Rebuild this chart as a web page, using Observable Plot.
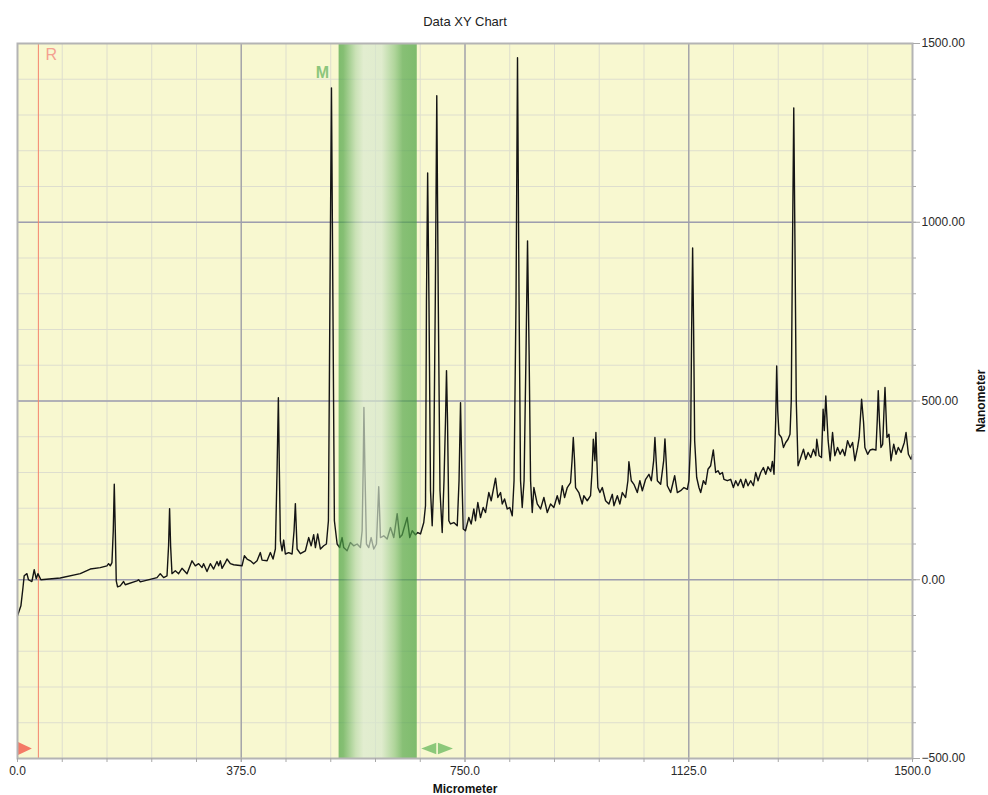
<!DOCTYPE html>
<html>
<head>
<meta charset="utf-8">
<script src="https://cdn.jsdelivr.net/npm/d3@7"></script>
<script src="https://cdn.jsdelivr.net/npm/@observablehq/plot@0.6"></script>
<style>
  body { margin: 0; background: #ffffff; }
  #chart svg { display: block; }
</style>
</head>
<body>
<div id="chart"></div>
<script>
// ---------- data ----------
const title = "Data XY Chart";
const xLabel = "Micrometer";
const yLabel = "Nanometer";
const xDomain = [0, 1500];
const yDomain = [-500, 1500];
const xMajorTicks = [0, 375, 750, 1125, 1500];
const xMinorTicks = [0, 75, 150, 225, 300, 375, 450, 525, 600, 675, 750, 825, 900, 975, 1050, 1125, 1200, 1275, 1350, 1425, 1500];
const yMajorTicks = [-500, 0, 500, 1000, 1500];
const yMinorTicks = [-500, -400, -300, -200, -100, 0, 100, 200, 300, 400, 500, 600, 700, 800, 900, 1000, 1100, 1200, 1300, 1400, 1500];
const rMarker = [{x: 35, label: "R"}];
const mBand = [{x1: 539, x2: 670, label: "M"}];

// spectrum [micrometer, nanometer]
const spectrum = [
  [0,-101],[5.7,-73],[9.1,-23],[11.2,11],[15.8,17],[18.4,0],[24.1,-5],[28,28],[31.4,3],[34.2,17],
  [39.2,0],[71.6,5],[105.2,17],[121.9,30],[138.7,34],[149.9,39],[152.6,45],[155.5,39],[158.3,48],[160.5,137],
  [162.2,267],[163.9,137],[165.5,-3],[167.7,-20],[172.2,-17],[177.8,-5],[180.6,-14],[200.2,-3],[202.9,0],[205.8,-6],
  [233.8,6],[239.3,17],[244.9,6],[250.6,11],[253.2,95],[254.9,199],[256.6,95],[258.9,17],[264.5,25],[270,17],
  [275.7,32],[284.1,17],[292.5,53],[298,39],[303.6,45],[309.3,34],[311.9,45],[317.6,23],[323.2,45],[328.7,30],
  [334.4,51],[337.1,39],[340,53],[342.8,32],[348.3,48],[351.2,58],[356.7,45],[362.3,42],[376.3,39],[380.2,67],
  [384.7,58],[390.3,53],[395.8,45],[401.5,53],[407,76],[409.9,55],[418.3,53],[423.8,76],[428.3,58],[432.2,86],
  [435,305],[437.2,509],[438.9,305],[440.6,109],[443.4,81],[446.1,111],[448.9,72],[454.5,76],[460.2,72],[463.5,137],
  [465.7,213],[468.6,86],[474.1,73],[482.5,81],[488,118],[492.1,95],[496.4,126],[499.3,90],[503.1,128],[507.7,86],
  [513.2,95],[517.7,100],[521.1,165],[523.6,780],[526.2,1376],[528.6,780],[531.1,165],[535.7,100],[540,90],
  [541.2,100],[544,118],[546.7,90],[552.4,81],[557.9,104],[563.5,95],[569.2,100],[574.7,90],[577.6,137],[579.3,305],
  [580.6,482],[582.3,305],[584.8,100],[588.7,90],[592.7,118],[597.1,86],[601.6,100],[603.8,193],[605.4,260],[607.1,179],
  [608.3,118],[613.8,123],[619.5,114],[625.1,146],[630.6,118],[636.3,185],[640.7,118],[644.7,126],[647.4,142],[653.1,174],
  [657.4,118],[661.5,137],[667,126],[670.9,132],[675.4,128],[680.9,160],[683.8,207],[685.4,780],[687.4,1138],[689.6,780],
  [692.2,249],[695,151],[697.2,249],[700.2,780],[702.7,1354],[705.2,780],[708.1,249],[711.8,132],[714.8,277],[717.3,445],
  [719,585],[720.7,445],[722.9,165],[725.7,156],[731.3,160],[737,151],[740,277],[742.5,495],[745,277],[747,142],
  [750.8,137],[756.4,174],[760.4,156],[764.8,198],[767.6,165],[771.5,216],[776,174],[780.5,202],[784.4,188],[789.9,244],
  [793.9,221],[801.2,284],[805,230],[809.6,244],[812.4,212],[816.3,226],[820.8,198],[825.1,202],[829.2,179],[832.2,277],
  [835.5,780],[838,1460],[840.6,780],[843.1,277],[845.9,202],[849,277],[852.3,640],[854.8,948],[857.4,640],[859.9,277],
  [862.7,188],[865.4,258],[871.1,212],[876.6,198],[882.2,230],[887.9,188],[893.4,212],[898.9,202],[904.6,235],[908.5,212],
  [913,263],[916.9,230],[921.4,258],[926.9,272],[929.4,333],[931.5,398],[933.6,333],[935.3,258],[940.8,244],[946.5,212],
  [949.2,235],[954.9,221],[960.4,235],[963,305],[965,393],[967.7,333],[969.4,412],[971,333],[972.7,258],[976.1,244],
  [980.1,258],[985.6,221],[991.2,212],[996.9,239],[999.6,207],[1005.3,235],[1009.6,212],[1013.6,244],[1019.2,230],[1023,277],
  [1024.7,330],[1028.7,277],[1033.1,267],[1038.8,244],[1043.1,277],[1047.2,249],[1052.7,281],[1058.3,295],[1062.3,277],[1066.2,333],
  [1068.3,398],[1070.4,333],[1072.4,277],[1077.9,267],[1083,333],[1085.1,394],[1087.1,333],[1089.1,263],[1094.7,244],[1101.4,291],
  [1105.9,244],[1111.4,249],[1117,258],[1122.6,253],[1125.3,277],[1128.2,389],[1129.8,696],[1131.5,928],[1133.2,696],[1134.9,389],
  [1138.3,286],[1142.1,258],[1145,244],[1149.5,277],[1153.3,267],[1157.2,309],[1161.7,319],[1166.2,363],[1170.1,300],[1174,305],
  [1177.3,295],[1181.4,300],[1184,281],[1189.7,277],[1195.3,281],[1199.8,258],[1203.7,277],[1207.5,263],[1212.1,281],[1216.6,258],
  [1220.5,281],[1224.3,263],[1228.8,277],[1233.4,263],[1237.2,300],[1241.1,277],[1245.6,300],[1250.1,314],[1254,295],[1257.8,316],
  [1262.4,303],[1265.2,331],[1267.9,295],[1270.7,445],[1272.4,598],[1274.1,472],[1276.3,407],[1280.3,398],[1283.7,370],[1287.5,384],
  [1291.4,393],[1294.7,407],[1296.8,500],[1298.8,920],[1301,1320],[1303.1,920],[1305.2,500],[1308.2,319],[1312.7,342],[1317.3,365],
  [1321.1,337],[1325,356],[1329.5,342],[1334,365],[1337.9,347],[1339.6,393],[1343.5,347],[1347.5,342],[1350.2,477],[1352.2,417],
  [1354.7,514],[1358.6,389],[1362,333],[1366,412],[1369.8,347],[1374.4,370],[1378.7,351],[1382.8,365],[1386.6,347],[1391.2,389],
  [1395.5,370],[1399.6,384],[1403.4,333],[1408,370],[1410.6,398],[1414.7,505],[1418,440],[1420.2,370],[1424.8,351],[1429.1,363],
  [1433.2,365],[1438.7,363],[1440.9,445],[1442.6,529],[1444.6,445],[1447.1,370],[1450,379],[1452.2,472],[1453.9,538],[1457.2,398],
  [1460.6,407],[1463.9,333],[1468.5,379],[1472.4,351],[1476.2,370],[1480.8,356],[1486.3,384],[1489.2,412],[1493.1,351],[1497.6,337],
  [1500,351]
];

// ---------- styling helpers ----------
const NS = "http://www.w3.org/2000/svg";
const bandStops = [
  [0, "#449f3e"], [0.06, "#4fa447"], [0.22, "#b5d7aa"], [0.32, "#d8e8d0"],
  [0.55, "#d4e6cc"], [0.72, "#8cc480"], [0.82, "#52a54a"], [1, "#449f3e"]
];
function gradientDefs() {
  const defs = document.createElementNS(NS, "defs");
  const g = document.createElementNS(NS, "linearGradient");
  g.setAttribute("id", "mBandGrad");
  g.setAttribute("x1", "0"); g.setAttribute("x2", "1");
  g.setAttribute("y1", "0"); g.setAttribute("y2", "0");
  for (const [o, c] of bandStops) {
    const s = document.createElementNS(NS, "stop");
    s.setAttribute("offset", o);
    s.setAttribute("stop-color", c);
    g.appendChild(s);
  }
  defs.appendChild(g);
  return defs;
}
const rightTriRed = {draw(ctx) { ctx.moveTo(-7.2, -6.8); ctx.lineTo(7.2, 0); ctx.lineTo(-7.2, 6.8); ctx.closePath(); }};
const rightTriGreen = {draw(ctx) { ctx.moveTo(-7.5, -5.7); ctx.lineTo(7.5, 0); ctx.lineTo(-7.5, 5.7); ctx.closePath(); }};
const leftTriGreen = {draw(ctx) { ctx.moveTo(7.5, -5.7); ctx.lineTo(-7.5, 0); ctx.lineTo(7.5, 5.7); ctx.closePath(); }};

const FONT = "'Liberation Sans', Arial, Helvetica, sans-serif";

const chart = Plot.plot({
  width: 988,
  height: 795,
  marginLeft: 17,
  marginRight: 76,
  marginTop: 43,
  marginBottom: 37,
  x: {domain: xDomain},
  y: {domain: yDomain},
  style: {fontFamily: FONT, fontSize: "12px", background: "#ffffff", color: "#222", overflow: "visible"},
  marks: [
    gradientDefs,
    Plot.frame({fill: "#f8f8d0", stroke: null}),
    Plot.gridX({ticks: xMinorTicks, stroke: "#dedece", strokeOpacity: 1}),
    Plot.gridY({ticks: yMinorTicks, stroke: "#dedece", strokeOpacity: 1}),
    Plot.gridX({ticks: xMajorTicks.slice(1, -1), stroke: "#a6a6aa", strokeOpacity: 1, strokeWidth: 1.5}),
    Plot.gridY({ticks: yMajorTicks.slice(1, -1), stroke: "#9e9eae", strokeOpacity: 1, strokeWidth: 1.5}),
    Plot.ruleX(rMarker, {x: "x", stroke: "#f4846e", strokeWidth: 1}),
    Plot.line(spectrum, {x: d => d[0], y: d => d[1], stroke: "#141414", strokeWidth: 1.4, strokeLinejoin: "round"}),
    Plot.rect(mBand, {x1: "x1", x2: "x2", fill: "url(#mBandGrad)", fillOpacity: 0.68}),
    Plot.text(mBand, {x: "x1", text: "label", frameAnchor: "top", dy: 29, dx: -10, textAnchor: "end", lineAnchor: "middle",
      fill: "#8cc67c", fontWeight: "bold", fontSize: 16}),
    Plot.text(rMarker, {x: "x", text: "label", frameAnchor: "top", dy: 11, dx: 7, textAnchor: "start", lineAnchor: "middle",
      fill: "#f4a090", fontSize: 16}),
    Plot.dot([xDomain[0]], {x: d => d, frameAnchor: "bottom", dx: 7.2, dy: -10, symbol: rightTriRed, fill: "#f47a66", stroke: "none"}),
    Plot.dot(mBand, {x: "x2", frameAnchor: "bottom", dx: 11.5, dy: -10, symbol: leftTriGreen, fill: "#8cc87a", stroke: "none"}),
    Plot.dot(mBand, {x: "x2", frameAnchor: "bottom", dx: 28.2, dy: -10, symbol: rightTriGreen, fill: "#8cc87a", stroke: "none"}),
    Plot.frame({stroke: "#b4b4b4", strokeWidth: 2}),
    Plot.axisX({ticks: xMinorTicks, tickFormat: () => "", tickSize: 4, stroke: "#a8a8a8", label: null}),
    Plot.axisX({ticks: xMajorTicks, tickFormat: d3.format(".1f"), tickSize: 4, tickPadding: 4,
      stroke: "#a8a8a8", fill: "#2a2a2a", fontSize: 12, label: null}),
    Plot.axisY({anchor: "right", ticks: yMinorTicks, tickFormat: () => "", tickSize: 3, stroke: "#a8a8a8", label: null}),
    Plot.axisY({anchor: "right", ticks: yMajorTicks, tickFormat: d3.format(".2f"), tickSize: 7, tickPadding: 2,
      stroke: "#a8a8a8", fill: "#2a2a2a", fontSize: 12, label: null}),
    Plot.text([title], {text: d => d, frameAnchor: "top", dy: -22, lineAnchor: "middle", fontSize: 13, fill: "#222"}),
    Plot.text([xLabel], {text: d => d, frameAnchor: "bottom", dy: 31, lineAnchor: "middle", fontSize: 12, fontWeight: "bold", fill: "#111"}),
    Plot.text([yLabel], {text: d => d, frameAnchor: "right", dx: 69, rotate: -90, textAnchor: "middle", lineAnchor: "middle",
      fontSize: 12, fontWeight: "bold", fill: "#111"})
  ]
});
document.getElementById("chart").appendChild(chart);
</script>
</body>
</html>
